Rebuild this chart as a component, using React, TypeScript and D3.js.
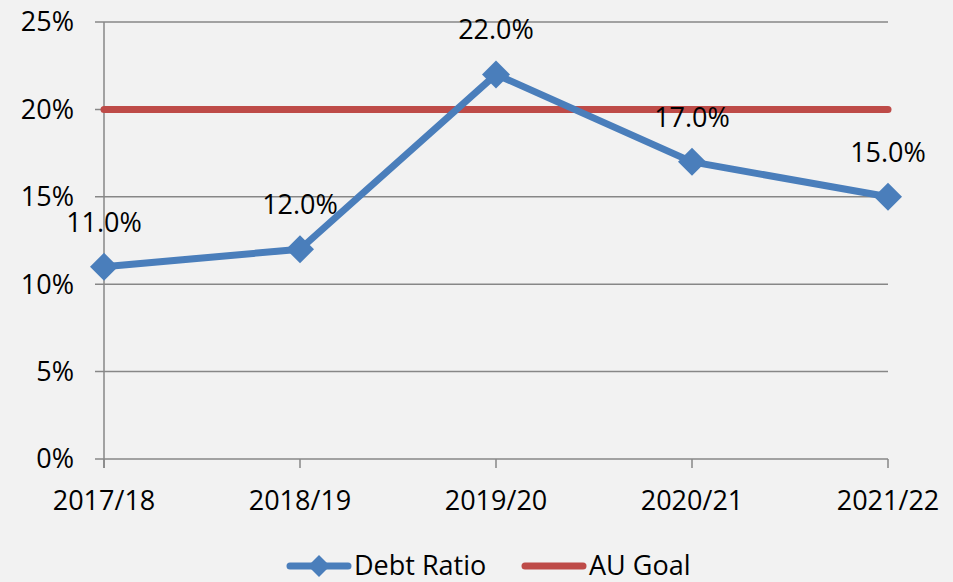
import React from "react";
import * as d3 from "d3";

const categories = ["2017/18", "2018/19", "2019/20", "2020/21", "2021/22"];
const debtRatio = [11, 12, 22, 17, 15];
const auGoal = [20, 20, 20, 20, 20];
const yTicks = [0, 5, 10, 15, 20, 25];

const W = 953;
const H = 582;
const FONT = "'Open Sans', 'Noto Sans', sans-serif";

export default function App() {
  const x = d3.scalePoint<string>().domain(categories).range([104, 888]);
  const y = d3.scaleLinear().domain([0, 25]).range([459, 22]);
  const line = d3
    .line<number>()
    .x((_, i) => x(categories[i]) as number)
    .y((d) => y(d));
  const diamond = (cx: number, cy: number, r: number) =>
    `M${cx},${cy - r}L${cx + r},${cy}L${cx},${cy + r}L${cx - r},${cy}Z`;
  const blue = "#4a7ebb";
  const red = "#be4b48";
  const grid = "#878787";

  return (
    <svg
      width={W}
      height={H}
      style={{ position: "absolute", left: 0, top: 0 }}
      fontFamily={FONT}
    >
      <rect x={0} y={0} width={W} height={H} fill="#f2f2f2" />
      {yTicks.map((t) => (
        <g key={t}>
          <line x1={95} x2={888} y1={y(t)} y2={y(t)} stroke={grid} strokeWidth={1.5} />
          <text x={74} y={y(t)} dy="0.35em" textAnchor="end" fontSize={27} fill="#000">
            {t}%
          </text>
        </g>
      ))}
      <line x1={104} x2={104} y1={y(25)} y2={468} stroke={grid} strokeWidth={1.5} />
      {categories.map((c) => (
        <g key={c}>
          <line x1={x(c)} x2={x(c)} y1={459} y2={468} stroke={grid} strokeWidth={1.5} />
          <text x={x(c)} y={510} textAnchor="middle" fontSize={27} fill="#000">
            {c}
          </text>
        </g>
      ))}
      <path
        d={line(auGoal) as string}
        fill="none"
        stroke={red}
        strokeWidth={7}
        strokeLinecap="round"
      />
      <path
        d={line(debtRatio) as string}
        fill="none"
        stroke={blue}
        strokeWidth={7}
        strokeLinejoin="round"
      />
      {debtRatio.map((v, i) => (
        <path key={i} d={diamond(x(categories[i]) as number, y(v), 14)} fill={blue} />
      ))}
      {debtRatio.map((v, i) => (
        <text
          key={"l" + i}
          x={x(categories[i])}
          y={y(v) - 35}
          textAnchor="middle"
          fontSize={27}
          fill="#000"
        >
          {v.toFixed(1)}%
        </text>
      ))}
      {/* legend */}
      <line x1={290} x2={348} y1={566} y2={566} stroke={blue} strokeWidth={7} strokeLinecap="round" />
      <path d={diamond(319, 566, 11)} fill={blue} />
      <text x={354} y={575} fontSize={27} fill="#000">Debt Ratio</text>
      <line x1={525} x2={583} y1={566} y2={566} stroke={red} strokeWidth={7} strokeLinecap="round" />
      <text x={589} y={575} fontSize={27} fill="#000">AU Goal</text>
    </svg>
  );
}
